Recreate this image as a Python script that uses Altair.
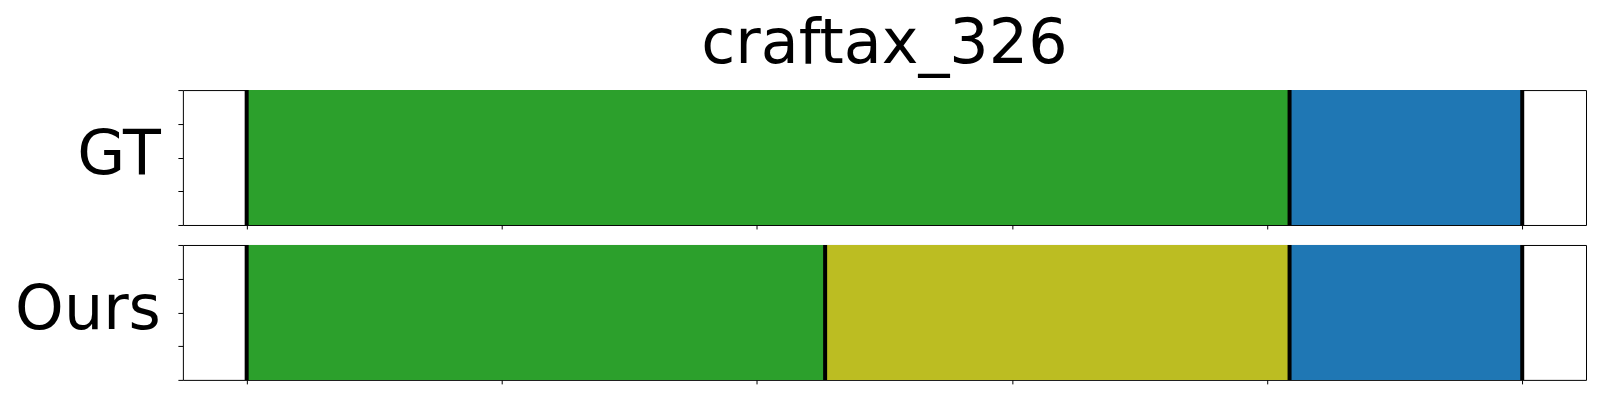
import altair as alt
import pandas as pd

# segment data (normalized time 0..1)
gt_start = [0.0, 0.8176]
gt_end = [0.8176, 1.0]
gt_label = ["green", "blue"]
gt_bounds = [0.0, 0.8176, 1.0]

ours_start = [0.0, 0.4535, 0.8176]
ours_end = [0.4535, 0.8176, 1.0]
ours_label = ["green", "olive", "blue"]
ours_bounds = [0.0, 0.4535, 0.8176, 1.0]

label_names = ["green", "blue", "olive"]
label_colors = ["#2ca02c", "#1f77b4", "#bcbd22"]

x_ticks = [0.0, 0.2, 0.4, 0.6, 0.8, 1.0]
y_ticks = [0.0, 0.25, 0.5, 0.75, 1.0]

xscale = alt.Scale(domain=[-0.05, 1.05], nice=False, zero=False)
yscale = alt.Scale(domain=[0, 1], nice=False)

xaxis = alt.Axis(values=x_ticks, labels=False, domain=False, grid=False, title=None,
                 tickSize=4, tickColor="black", tickWidth=1)
yaxis = alt.Axis(values=y_ticks, labels=False, domain=False, grid=False, title=None,
                 tickSize=5, tickColor="black", tickWidth=1)


def panel(name, starts, ends, labels, bnds):
    segs = pd.DataFrame({"start": starts, "end": ends, "label": labels})
    segs["y0"] = 0.0
    segs["y1"] = 1.0
    rects = alt.Chart(segs).mark_rect().encode(
        x=alt.X("start:Q", scale=xscale, axis=xaxis),
        x2="end:Q",
        y=alt.Y("y0:Q", scale=yscale, axis=yaxis),
        y2="y1:Q",
        color=alt.Color("label:N", scale=alt.Scale(domain=label_names, range=label_colors),
                        legend=None),
    )
    rules = alt.Chart(pd.DataFrame({"start": bnds})).mark_rule(
        color="black", strokeWidth=4
    ).encode(x=alt.X("start:Q", scale=xscale, axis=xaxis))
    txt = alt.Chart(pd.DataFrame({"name": [name]})).mark_text(
        align="right", baseline="alphabetic", fontSize=62, font="DejaVu Sans", color="black"
    ).encode(x=alt.value(-22), y=alt.value(84), text="name:N")
    return alt.layer(rects, rules, txt).properties(width=1404, height=135)


chart = alt.vconcat(
    panel("GT", gt_start, gt_end, gt_label, gt_bounds),
    panel("Ours", ours_start, ours_end, ours_label, ours_bounds),
    spacing=20, bounds="flush",
).properties(
    title=alt.TitleParams("craftax_326", fontSize=62, font="DejaVu Sans",
                          fontWeight="normal", anchor="middle", frame="group",
                          color="black", offset=12),
    padding={"left": 6, "top": 4, "right": 5, "bottom": 5},
).configure_view(stroke="black", strokeWidth=1)

chart.save("out.html", embed_options={"renderer": "svg", "actions": False})
